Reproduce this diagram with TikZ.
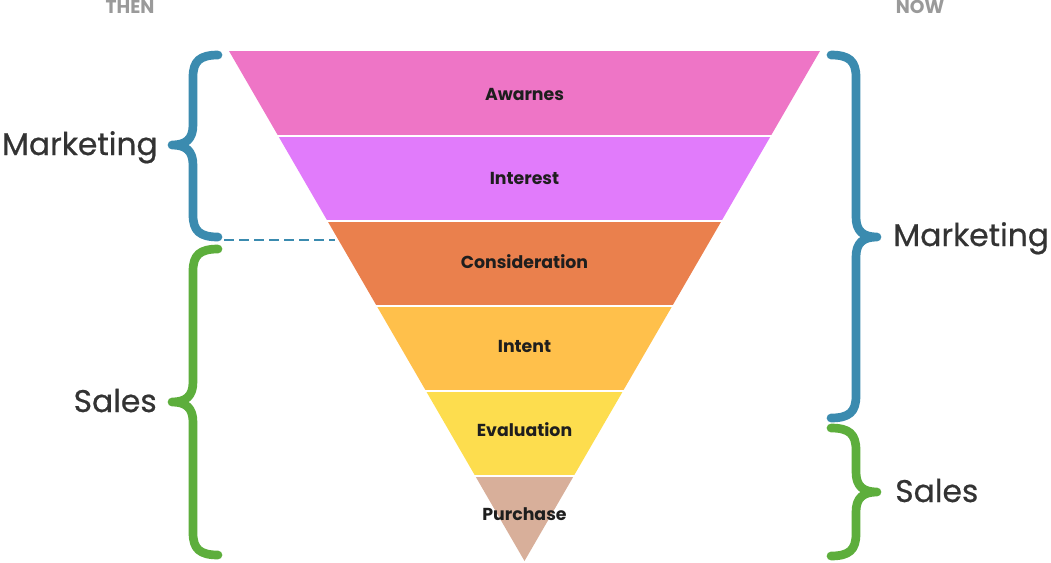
\documentclass[tikz,border=0pt]{standalone}
\usepackage{fontspec}
\setmainfont{Poppins}
\newfontfamily\sidefont[FakeBold=0.6]{Poppins}
\definecolor{cAw}{HTML}{EE75C6}
\definecolor{cIn}{HTML}{E17BFB}
\definecolor{cCo}{HTML}{EA804D}
\definecolor{cIt}{HTML}{FFC04B}
\definecolor{cEv}{HTML}{FDDD4E}
\definecolor{cPu}{HTML}{D8AF9A}
\definecolor{bBlue}{HTML}{3B8BAF}
\definecolor{bGreen}{HTML}{5DAE3C}
\definecolor{txtDark}{HTML}{1E1E1E}
\definecolor{txtSide}{HTML}{333333}
\definecolor{txtGray}{HTML}{9A9A9A}
\tikzset{
	stage/.style={font=\bfseries\fontsize{13}{15}\selectfont,text=txtDark,inner sep=0pt,anchor=base},
	side/.style={font=\sidefont\fontsize{23.5}{26}\selectfont,text=txtSide,inner sep=0pt},
	era/.style={font=\bfseries\fontsize{14}{16}\selectfont,text=txtGray,inner sep=0pt,anchor=base},
	curly/.style={line width=6.5pt,line cap=round,line join=round},
	dashline/.style={bBlue,line width=1.5pt,dash pattern=on 7.5pt off 3.75pt},
}
% #1 end x, #2 top y, #3 tip y, #4 bottom y, #5 side (-1 left, 1 right), #6 colour
\newcommand{\curly}[6]{%
	\draw[curly,#6] (#1,#2) .. controls ({#1+18*#5},#2) and ({#1+25*#5},{#2+6}) .. ({#1+25*#5},{#2+22})
	-- ({#1+25*#5},{#3-20}) .. controls ({#1+25*#5},{#3-6}) and ({#1+32*#5},#3) .. ({#1+46*#5},#3)
	.. controls ({#1+32*#5},#3) and ({#1+25*#5},{#3+6}) .. ({#1+25*#5},{#3+20})
	-- ({#1+25*#5},{#4-22}) .. controls ({#1+25*#5},{#4-6}) and ({#1+18*#5},#4) .. (#1,#4);}
\begin{document}
\begin{tikzpicture}[x=0.75pt,y=-0.75pt]
	\useasboundingbox (0,0) rectangle (1051,562);
	% 漏斗
	\foreach \i/\col in {0/cAw,1/cIn,2/cCo,3/cIt,4/cEv,5/cPu}{
		\pgfmathsetmacro\yt{51+85*\i}
		\pgfmathsetmacro\yb{\yt+85}
		\pgfmathsetmacro\wt{0.579412*(561-\yt)}
		\pgfmathsetmacro\wb{0.579412*(561-\yb)}
		\fill[\col] ({524.5-\wt},\yt) -- ({524.5+\wt},\yt) -- ({524.5+\wb},\yb) -- ({524.5-\wb},\yb) -- cycle;
	}
	\foreach \i in {1,...,5}
		\draw[white,line width=1.5pt] (200,{51+85*\i}) -- (850,{51+85*\i}); %分隔线
	\foreach \i/\lab in {0/Awarnes,1/Interest,2/Consideration,3/Intent,4/Evaluation,5/Purchase}
		\node[stage] (s\i) at (524.5,{100+84*\i}) {\lab};
	% 括号
	\curly{218}{55}{145}{237}{-1}{bBlue}
	\curly{218}{249}{402}{555}{-1}{bGreen}
	\curly{831}{55}{237}{418}{1}{bBlue}
	\curly{831}{428}{492}{556}{1}{bGreen}
	\coordinate (d1) at (224,240);
	\coordinate (d2) at (335,240);
	\draw[dashline] (d1) -- (d2);
	% 文字
	\node[side,anchor=base east] (mThen) at (158,155) {Marketing};
	\node[side,anchor=base east] (sThen) at (157,412) {Sales};
	\node[side,anchor=base west] (mNow) at (893,246) {Marketing};
	\node[side,anchor=base west] (sNow) at (895,502) {Sales};
	\node[era] (then) at (130,13) {THEN};
	\node[era] (now) at (920,13) {NOW};
\end{tikzpicture}
\end{document}
